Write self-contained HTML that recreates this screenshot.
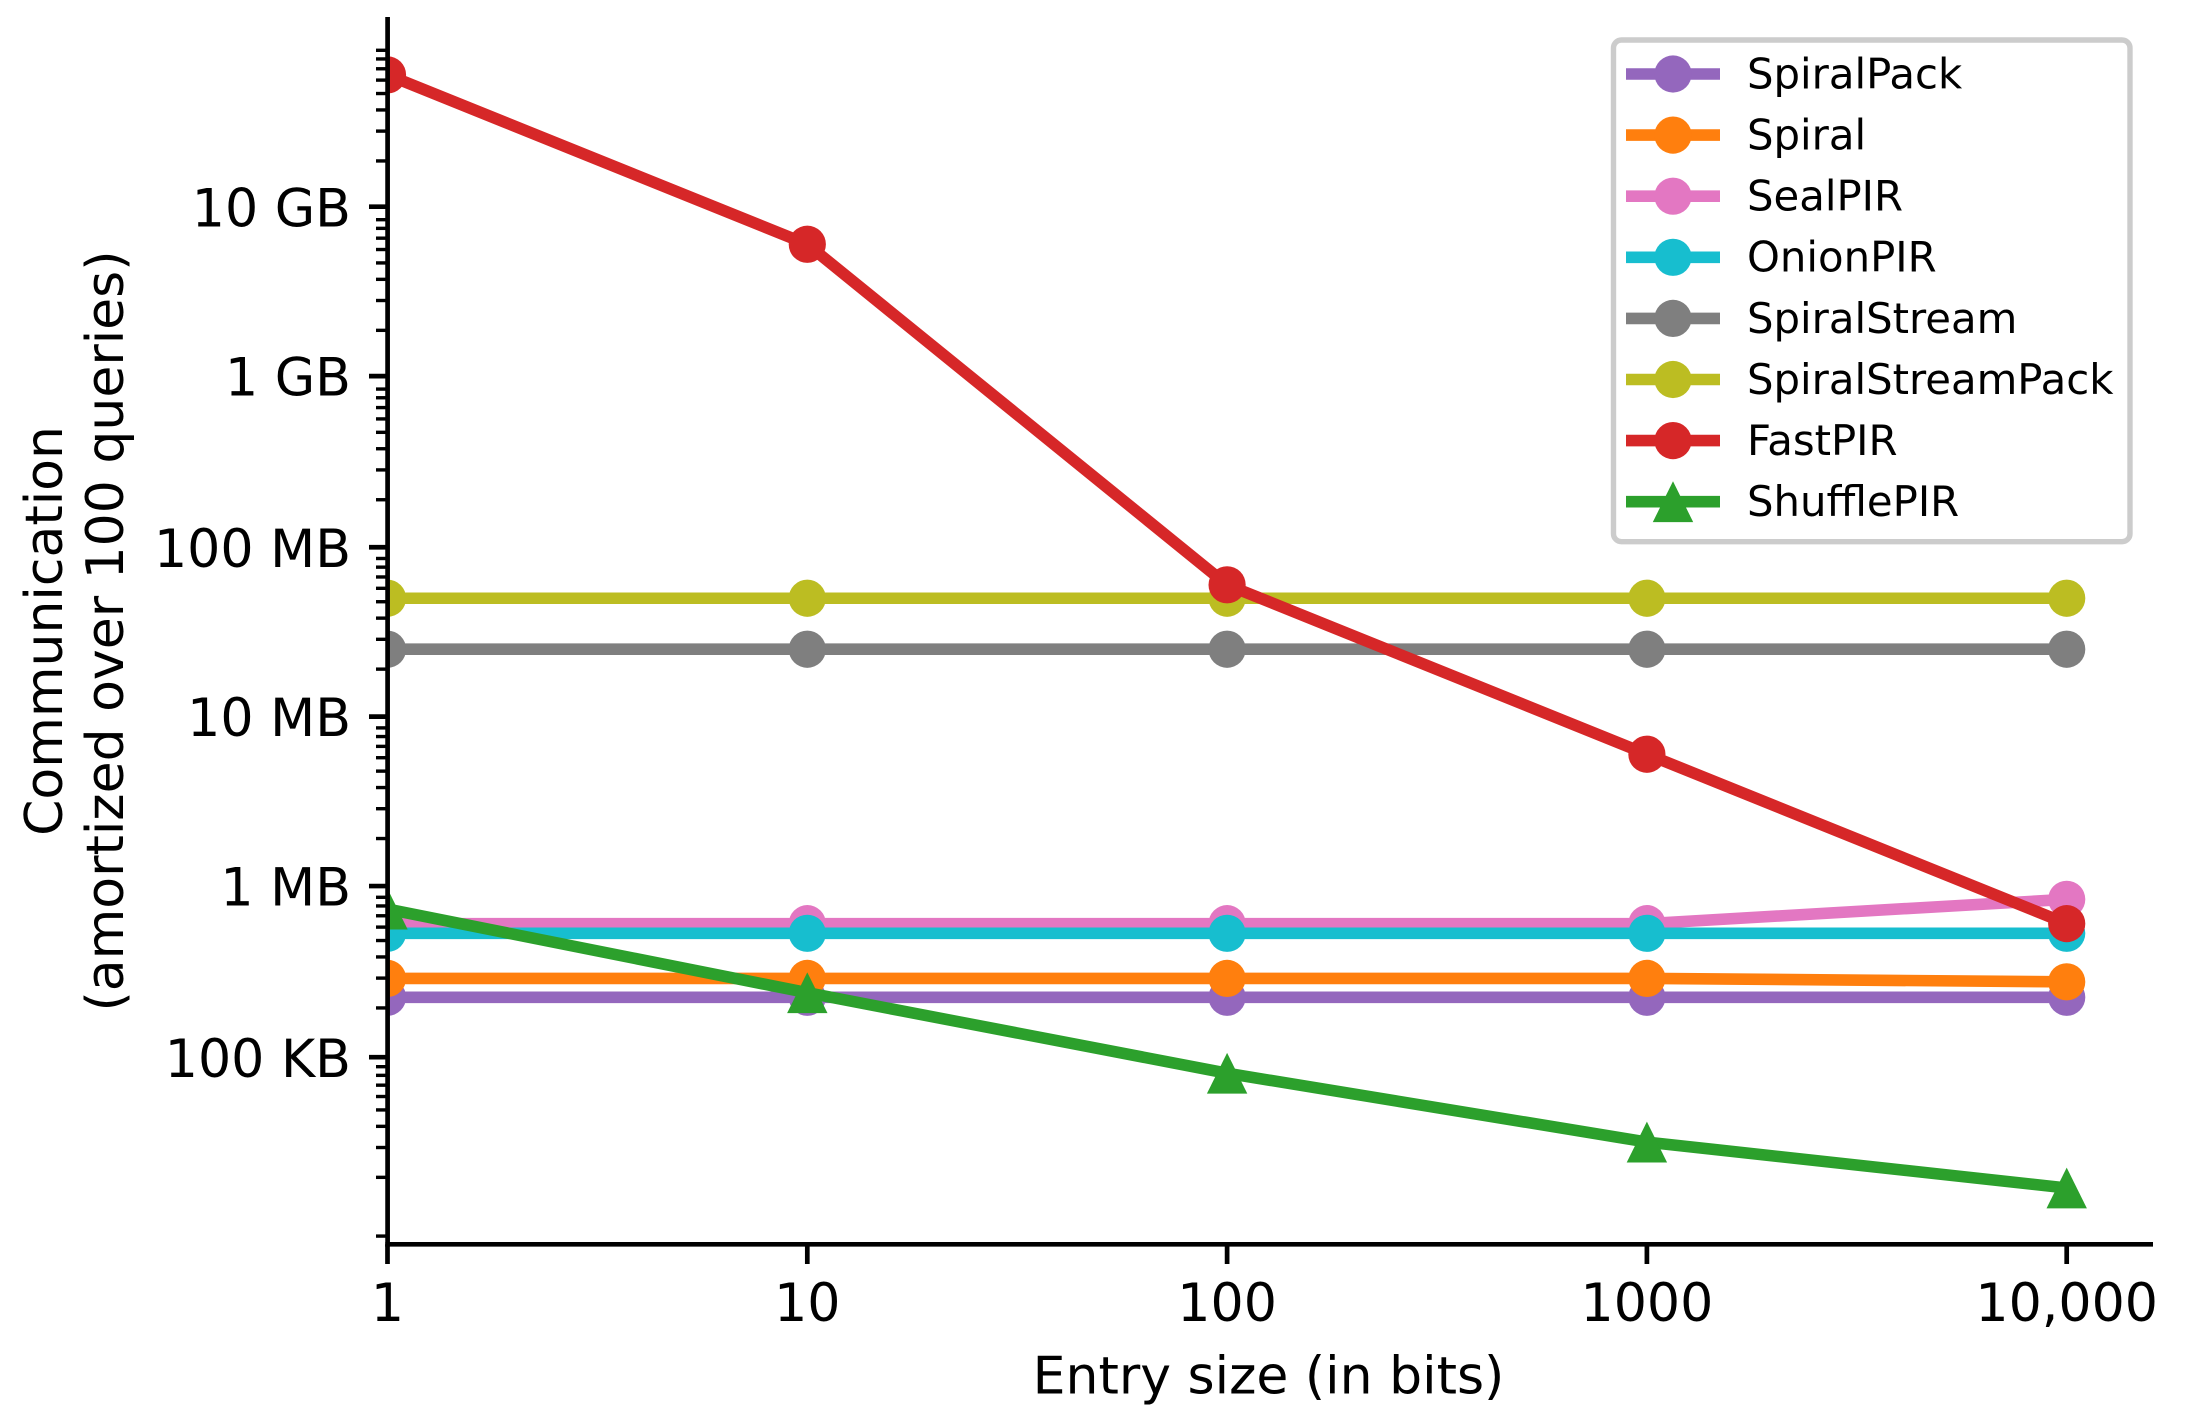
<!DOCTYPE html>
<html lang="en">
<head>
<meta charset="utf-8">
<title>Communication vs entry size</title>
<style>
html,body{margin:0;padding:0;background:#fff;}
svg{display:block;}
text{font-family:"DejaVu Sans","Liberation Sans",sans-serif;fill:#000;}
</style>
</head>
<body>
<svg id="chart" xmlns="http://www.w3.org/2000/svg" width="2191" height="1427" viewBox="0 0 2191 1427">
  <rect x="0" y="0" width="2191" height="1427" fill="#ffffff"/>
  <defs>
    <clipPath id="plot-clip"><rect x="387.6" y="17" width="1765.4" height="1227.3"/></clipPath>
  </defs>
  <g id="series-layer"></g>
  <g id="axes-layer"></g>
  <g id="legend-layer"></g>
</svg>
<script>
// Chart data (values in MiB of communication)
const entrySizes = [1, 10, 100, 1000, 10000];
const spiralPack = [0.2205, 0.2205, 0.2205, 0.2205, 0.2205];
const spiral = [0.285, 0.285, 0.285, 0.285, 0.272];
const sealPir = [0.6, 0.6, 0.6, 0.6, 0.835];
const onionPir = [0.526, 0.526, 0.526, 0.526, 0.526];
const spiralStream = [25, 25, 25, 25, 25];
const spiralStreamPack = [50, 50, 50, 50, 50];
const fastPir = [61440, 6144, 60, 6, 0.6];
const shufflePir = [0.731, 0.2345, 0.0785, 0.0308, 0.0165];

const seriesNames = ["SpiralPack", "Spiral", "SealPIR", "OnionPIR", "SpiralStream", "SpiralStreamPack", "FastPIR", "ShufflePIR"];
const seriesValues = [spiralPack, spiral, sealPir, onionPir, spiralStream, spiralStreamPack, fastPir, shufflePir];
const seriesColors = ["#9467bd", "#ff7f0e", "#e377c2", "#17becf", "#7f7f7f", "#bcbd22", "#d62728", "#2ca02c"];
const seriesMarkers = ["circle", "circle", "circle", "circle", "circle", "circle", "circle", "triangle"];

const xTickValues = [1, 10, 100, 1000, 10000];
const xTickLabels = ["1", "10", "100", "1000", "10,000"];
const yTickValues = [10240, 1024, 100, 10, 1, 0.09765625];
const yTickLabels = ["10 GB", "1 GB", "100 MB", "10 MB", "1 MB", "100 KB"];
const yMinorExponents = [3, 4, 5, 6, 7, 8, 9, 10];
const yMinorSubs = [2, 3, 4, 5, 6, 7, 8, 9];

const SVG_NS = "http://www.w3.org/2000/svg";
const MIB = 1048576;
const plotLeft = 387.6, plotRight = 2153, plotTop = 17, plotBottom = 1244.3;
const xOrigin = 387.5, xDecade = 419.8;
const yRefPx = 206.7, yDecade = 169.4, yRefBytes = 10240 * MIB;

function xScale(v) { return xOrigin + xDecade * Math.log10(v); }
function yScaleBytes(b) { return yRefPx + yDecade * (Math.log10(yRefBytes) - Math.log10(b)); }
function yScale(mib) { return yScaleBytes(mib * MIB); }

function make(tag, attrs, parent) {
  const el = document.createElementNS(SVG_NS, tag);
  for (const k in attrs) el.setAttribute(k, attrs[k]);
  parent.appendChild(el);
  return el;
}
function slug(s) { return s.toLowerCase().replace(/[^a-z0-9]+/g, "-").replace(/^-|-$/g, ""); }

function drawMarker(kind, cx, cy, color, parent) {
  if (kind === "triangle") {
    return make("polygon", { points: (cx) + "," + (cy - 20.4) + " " + (cx - 20.2) + "," + (cy + 20.4) + " " + (cx + 20.2) + "," + (cy + 20.4), fill: color }, parent);
  }
  return make("circle", { cx: cx, cy: cy, r: 18.6, fill: color }, parent);
}

const seriesLayer = document.getElementById("series-layer");
const axesLayer = document.getElementById("axes-layer");
const legendLayer = document.getElementById("legend-layer");

// Series
seriesNames.forEach(function (name, i) {
  const color = seriesColors[i];
  const g = make("g", { "clip-path": "url(#plot-clip)" }, seriesLayer);
  
  
  const pts = entrySizes.map(function (x, j) { return xScale(x) + "," + yScale(seriesValues[i][j]); }).join(" ");
  const line = make("polyline", { points: pts, fill: "none", stroke: color, "stroke-width": 11.6, "stroke-linejoin": "round" }, g);
  
  
  entrySizes.forEach(function (x, j) {
    const m = drawMarker(seriesMarkers[i], xScale(x), yScale(seriesValues[i][j]), color, g);
    
    
  });
});

// Minor y ticks
yMinorExponents.forEach(function (e) {
  yMinorSubs.forEach(function (s) {
    const y = yScaleBytes(s * Math.pow(10, e));
    if (y < plotTop || y > plotBottom) return;
    const t = make("line", { x1: 376, x2: 386, y1: y, y2: y, stroke: "#000", "stroke-width": 3.4 }, axesLayer);
    
    
  });
});

// Major y ticks and labels
yTickValues.forEach(function (v, i) {
  const y = yScale(v);
  const t = make("line", { x1: 369, x2: 386, y1: y, y2: y, stroke: "#000", "stroke-width": 4.7 }, axesLayer);
  
  
  const lab = make("text", { x: 351, y: y + 19.6, "text-anchor": "end", "font-size": 52.2 }, axesLayer);
  lab.textContent = yTickLabels[i];
  
  
});

// X ticks and labels
xTickValues.forEach(function (v, i) {
  const x = xScale(v);
  const t = make("line", { x1: x, x2: x, y1: plotBottom, y2: 1264, stroke: "#000", "stroke-width": 4.7 }, axesLayer);
  
  
  const lab = make("text", { x: x, y: 1321, "text-anchor": "middle", "font-size": 52.2 }, axesLayer);
  lab.textContent = xTickLabels[i];
  
  
});

// Spines
const ySpine = make("line", { x1: plotLeft, x2: plotLeft, y1: plotTop, y2: 1246.6, stroke: "#000", "stroke-width": 4.7 }, axesLayer);


const xSpine = make("line", { x1: 385.3, x2: plotRight, y1: plotBottom, y2: plotBottom, stroke: "#000", "stroke-width": 4.7 }, axesLayer);



// Axis titles
const xTitle = make("text", { x: 1268.5, y: 1393.5, "text-anchor": "middle", "font-size": 52 }, axesLayer);
xTitle.textContent = "Entry size (in bits)";


const yTitle1 = make("text", { x: 0, y: 0, "text-anchor": "middle", "font-size": 52, transform: "translate(62,631) rotate(-90)" }, axesLayer);
yTitle1.textContent = "Communication";


const yTitle2 = make("text", { x: 0, y: 0, "text-anchor": "middle", "font-size": 52, transform: "translate(123,631) rotate(-90)" }, axesLayer);
yTitle2.textContent = "(amortized over 100 queries)";



// Legend
const legendFrame = make("rect", { x: 1613.5, y: 40, width: 516.5, height: 501.7, rx: 8, ry: 8, fill: "#fff", stroke: "#cccccc", "stroke-width": 5.4 }, legendLayer);


seriesNames.forEach(function (name, i) {
  const rowY = 74 + 61.1 * i;
  const g = make("g", {}, legendLayer);
  
  
  const hl = make("line", { x1: 1626, x2: 1720, y1: rowY, y2: rowY, stroke: seriesColors[i], "stroke-width": 11.6 }, g);
  
  
  const hm = drawMarker(seriesMarkers[i], 1673, rowY, seriesColors[i], g);
  
  
  const txt = make("text", { x: 1747, y: rowY + 14.4, "font-size": 41.8 }, g);
  txt.textContent = name;
  
  
});
</script>
</body>
</html>
